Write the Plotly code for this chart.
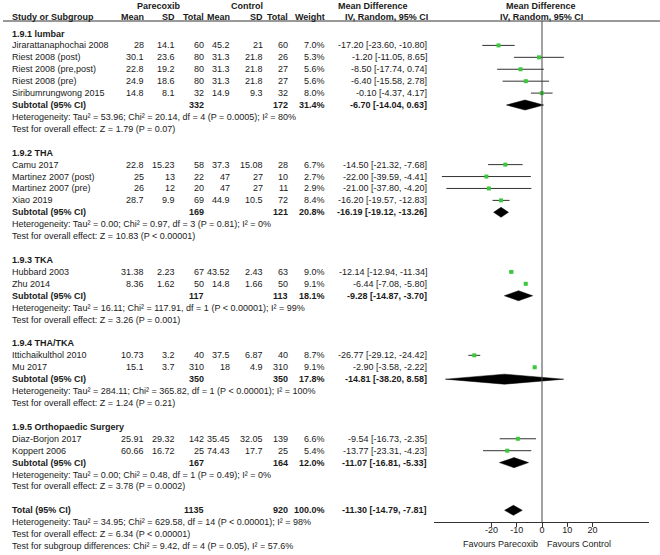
import plotly.graph_objects as go

# ---------------- data ----------------
group_labels = ["1.9.1 lumbar", "1.9.2 THA", "1.9.3 TKA", "1.9.4 THA/TKA", "1.9.5 Orthopaedic Surgery"]

study_names = ["Jirarattanaphochai 2008", "Riest 2008 (post)", "Riest 2008 (pre,post)", "Riest 2008 (pre)",
               "Siribumrungwong 2015",
               "Camu 2017", "Martinez 2007 (post)", "Martinez 2007 (pre)", "Xiao 2019",
               "Hubbard 2003", "Zhu 2014",
               "Ittichaikulthol 2010", "Mu 2017",
               "Diaz-Borjon 2017", "Koppert 2006"]
study_group = [0, 0, 0, 0, 0, 1, 1, 1, 1, 2, 2, 3, 3, 4, 4]
p_mean = [28, 30.1, 22.8, 24.9, 14.8, 22.8, 25, 26, 28.7, 31.38, 8.36, 10.73, 15.1, 25.91, 60.66]
p_sd = [14.1, 23.6, 19.2, 18.6, 8.1, 15.23, 13, 12, 9.9, 2.23, 1.62, 3.2, 3.7, 29.32, 16.72]
p_n = [60, 80, 80, 80, 32, 58, 22, 20, 69, 67, 50, 40, 310, 142, 25]
c_mean = [45.2, 31.3, 31.3, 31.3, 14.9, 37.3, 47, 47, 44.9, 43.52, 14.8, 37.5, 18, 35.45, 74.43]
c_sd = [21, 21.8, 21.8, 21.8, 9.3, 15.08, 27, 27, 10.5, 2.43, 1.66, 6.87, 4.9, 32.05, 17.7]
c_n = [60, 26, 27, 27, 32, 28, 10, 11, 72, 63, 50, 40, 310, 139, 25]
weight = [7.0, 5.3, 5.6, 5.6, 8.0, 6.7, 2.7, 2.9, 8.4, 9.0, 9.1, 8.7, 9.1, 6.6, 5.4]
md = [-17.20, -1.20, -8.50, -6.40, -0.10, -14.50, -22.00, -21.00, -16.20, -12.14, -6.44, -26.77, -2.90, -9.54, -13.77]
md_lo = [-23.60, -11.05, -17.74, -15.58, -4.37, -21.32, -39.59, -37.80, -19.57, -12.94, -7.08, -29.12, -3.58, -16.73, -23.31]
md_hi = [-10.80, 8.65, 0.74, 2.78, 4.17, -7.68, -4.41, -4.20, -12.83, -11.34, -5.80, -24.42, -2.22, -2.35, -4.23]

sub_p_n = [332, 169, 117, 350, 167]
sub_c_n = [172, 121, 113, 350, 164]
sub_weight = [31.4, 20.8, 18.1, 17.8, 12.0]
sub_md = [-6.70, -16.19, -9.28, -14.81, -11.07]
sub_lo = [-14.04, -19.12, -14.87, -38.20, -16.81]
sub_hi = [0.63, -13.26, -3.70, 8.58, -5.33]
sub_het = ["Heterogeneity: Tau² = 53.96; Chi² = 20.14, df = 4 (P = 0.0005); I² = 80%",
           "Heterogeneity: Tau² = 0.00; Chi² = 0.97, df = 3 (P = 0.81); I² = 0%",
           "Heterogeneity: Tau² = 16.11; Chi² = 117.91, df = 1 (P < 0.00001); I² = 99%",
           "Heterogeneity: Tau² = 284.11; Chi² = 365.82, df = 1 (P < 0.00001); I² = 100%",
           "Heterogeneity: Tau² = 0.00; Chi² = 0.48, df = 1 (P = 0.49); I² = 0%"]
sub_test = ["Test for overall effect: Z = 1.79 (P = 0.07)",
            "Test for overall effect: Z = 10.83 (P < 0.00001)",
            "Test for overall effect: Z = 3.26 (P = 0.001)",
            "Test for overall effect: Z = 1.24 (P = 0.21)",
            "Test for overall effect: Z = 3.78 (P = 0.0002)"]

total_p_n = 1135
total_c_n = 920
total_weight = 100.0
total_md = -11.30
total_lo = -14.79
total_hi = -7.81
total_notes = ["Heterogeneity: Tau² = 34.95; Chi² = 629.58, df = 14 (P < 0.00001); I² = 98%",
               "Test for overall effect: Z = 6.34 (P < 0.00001)",
               "Test for subgroup differences: Chi² = 9.42, df = 4 (P = 0.05), I² = 57.6%"]

tick_vals = [-20, -10, 0, 10, 20]
tick_text = ["-20", "-10", "0", "10", "20"]

# ---------------- layout constants ----------------
W, H = 660, 555
ROW0_PX, ROW_PX = 33.5, 11.92
AXIS_PX = 522
HEADER_LINE_PX = 21
FONT = "Liberation Sans, Arial, sans-serif"
TXT = "#1a1a1a"
COL = dict(name=12, pm=144, psd=175, pn=204, cm=230, csd=263, cn=288, w=325, eff=427)

r_top = -ROW0_PX / ROW_PX
r_bot = (H - ROW0_PX) / ROW_PX


def px2row(p):
    return (p - ROW0_PX) / ROW_PX


annotations = []


def txt(xpx, row, text, anchor="right", bold=False, size=9):
    annotations.append(dict(
        xref="paper", yref="y", x=xpx / W, y=row, text=("<b>%s</b>" % text) if bold else text,
        xanchor=anchor, yanchor="middle", showarrow=False, borderpad=0, borderwidth=0,
        font=dict(family=FONT, size=size, color=TXT)))


def fmt_eff(m, lo, hi):
    return "%.2f [%.2f, %.2f]" % (m, lo, hi)


# ---------------- headers ----------------
hr1, hr2 = px2row(6), px2row(17)
txt(159, hr1, "Parecoxib", "center", True)
txt(247, hr1, "Control", "center", True)
txt(373, hr1, "Mean Difference", "center", True)
txt(541, hr1, "Mean Difference", "center", True)
txt(COL["name"], hr2, "Study or Subgroup", "left", True)
txt(COL["pm"], hr2, "Mean", "right", True)
txt(COL["psd"], hr2, "SD", "right", True)
txt(COL["pn"], hr2, "Total", "right", True)
txt(COL["cm"], hr2, "Mean", "right", True)
txt(COL["csd"], hr2, "SD", "right", True)
txt(COL["cn"], hr2, "Total", "right", True)
txt(COL["w"], hr2, "Weight", "right", True)
txt(386, hr2, "IV, Random, 95% CI", "center", True)
txt(541, hr2, "IV, Random, 95% CI", "center", True)

# ---------------- rows ----------------
ci_x, ci_y, sq_x, sq_y = [], [], [], []
diamonds = []
row = 0
for g, label in enumerate(group_labels):
    txt(COL["name"], row, label, "left", True)
    row += 1
    for i in range(len(study_names)):
        if study_group[i] != g:
            continue
        txt(COL["name"], row, study_names[i], "left")
        txt(COL["pm"], row, "%g" % p_mean[i])
        txt(COL["psd"], row, "%g" % p_sd[i])
        txt(COL["pn"], row, "%d" % p_n[i])
        txt(COL["cm"], row, "%g" % c_mean[i])
        txt(COL["csd"], row, "%g" % c_sd[i])
        txt(COL["cn"], row, "%d" % c_n[i])
        txt(COL["w"], row, "%.1f%%" % weight[i])
        txt(COL["eff"], row, fmt_eff(md[i], md_lo[i], md_hi[i]))
        ci_x += [md_lo[i], md_hi[i], None]
        ci_y += [row, row, None]
        sq_x.append(md[i])
        sq_y.append(row)
        row += 1
    txt(COL["name"], row, "Subtotal (95% CI)", "left", True)
    txt(COL["pn"], row, "%d" % sub_p_n[g], bold=True)
    txt(COL["cn"], row, "%d" % sub_c_n[g], bold=True)
    txt(COL["w"], row, "%.1f%%" % sub_weight[g], bold=True)
    txt(COL["eff"], row, fmt_eff(sub_md[g], sub_lo[g], sub_hi[g]), bold=True)
    diamonds.append((sub_md[g], sub_lo[g], sub_hi[g], row))
    row += 1
    txt(COL["name"], row, sub_het[g], "left")
    row += 1
    txt(COL["name"], row, sub_test[g], "left")
    row += 2

txt(COL["name"], row, "Total (95% CI)", "left", True)
txt(COL["pn"], row, "%d" % total_p_n, bold=True)
txt(COL["cn"], row, "%d" % total_c_n, bold=True)
txt(COL["w"], row, "%.1f%%" % total_weight, bold=True)
txt(COL["eff"], row, fmt_eff(total_md, total_lo, total_hi), bold=True)
diamonds.append((total_md, total_lo, total_hi, row))
row += 1
for note in total_notes:
    txt(COL["name"], row, note, "left")
    row += 1

fav_row = px2row(544)
txt(538, fav_row, "Favours Parecoxib", "right")
txt(547, fav_row, "Favours Control", "left")

# ---------------- traces ----------------
fig = go.Figure()
fig.add_trace(go.Scatter(x=ci_x, y=ci_y, mode="lines", line=dict(color="#333333", width=1),
                         hoverinfo="skip", showlegend=False))
fig.add_trace(go.Scatter(x=sq_x, y=sq_y, mode="markers",
                         marker=dict(symbol="square", size=4, color="#3cc83c", line=dict(width=0)),
                         showlegend=False))
DH = 0.42
for m, lo, hi, r in diamonds:
    fig.add_trace(go.Scatter(x=[lo, m, hi, m, lo], y=[r, r - DH, r, r + DH, r], mode="lines",
                             fill="toself", fillcolor="#000000", line=dict(color="#000000", width=0.5),
                             hoverinfo="skip", showlegend=False))

shapes = [
    dict(type="line", xref="paper", yref="y", x0=3 / W, x1=1, y0=px2row(HEADER_LINE_PX), y1=px2row(HEADER_LINE_PX),
         line=dict(color="#333333", width=1)),
    dict(type="line", xref="x", yref="y", x0=0, x1=0, y0=px2row(HEADER_LINE_PX), y1=px2row(AXIS_PX),
         line=dict(color="#444444", width=1)),
]

fig.update_layout(
    width=W, height=H, margin=dict(l=0, r=0, t=0, b=0),
    paper_bgcolor="white", plot_bgcolor="rgba(0,0,0,0)",
    showlegend=False, annotations=annotations, shapes=shapes,
    xaxis=dict(domain=[434 / W, 649 / W], range=[-42.7, 42.3], anchor="free", position=1 - AXIS_PX / H,
               showline=True, linecolor="#333333", linewidth=1, showgrid=False, zeroline=False,
               tickmode="array", tickvals=tick_vals, ticktext=tick_text, ticks="outside", ticklen=4,
               ticklabelstandoff=-5,
               tickcolor="#333333", tickfont=dict(family=FONT, size=9, color=TXT)),
    yaxis=dict(domain=[0, 1], range=[r_bot, r_top], visible=False, showgrid=False, zeroline=False),
)

fig.write_html("out.html", config={"displayModeBar": False},
               post_script="document.body.style.margin='0px';document.body.style.overflow='hidden';")
